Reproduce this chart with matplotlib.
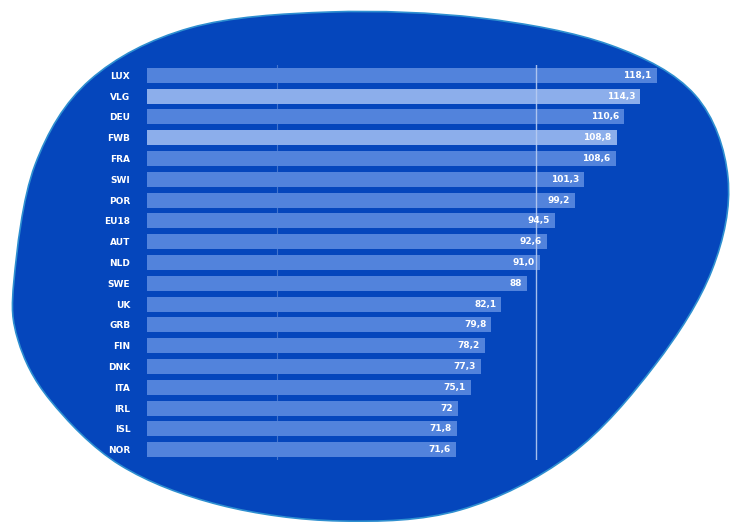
import matplotlib.pyplot as plt
import numpy as np
from matplotlib.path import Path
from matplotlib.patches import PathPatch

# data
countries = ['LUX', 'VLG', 'DEU', 'FWB', 'FRA', 'SWI', 'POR', 'EU18', 'AUT', 'NLD',
             'SWE', 'UK', 'GRB', 'FIN', 'DNK', 'ITA', 'IRL', 'ISL', 'NOR']
values = [118.1, 114.3, 110.6, 108.8, 108.6, 101.3, 99.2, 94.5, 92.6, 91.0,
          88, 82.1, 79.8, 78.2, 77.3, 75.1, 72, 71.8, 71.6]
labels = ['118,1', '114,3', '110,6', '108,8', '108,6', '101,3', '99,2', '94,5', '92,6', '91,0',
          '88', '82,1', '79,8', '78,2', '77,3', '75,1', '72', '71,8', '71,6']
highlight = ['VLG', 'FWB']

W, H = 730, 522
fig = plt.figure(figsize=(W / 100, H / 100), dpi=100)

# background blob
bg = fig.add_axes([0, 0, 1, 1])
bg.set_xlim(0, W)
bg.set_ylim(H, 0)
bg.axis('off')

pts = np.array([(14, 280), (35, 165), (90, 80), (190, 28), (330, 12), (480, 18),
                 (610, 45), (695, 95), (728, 178), (712, 270), (655, 365),
                 (570, 455), (460, 510), (340, 521), (220, 505), (120, 465),
                 (50, 400), (18, 340)], dtype=float)

# closed catmull-rom -> bezier
n = len(pts)
verts = [pts[0]]
codes = [Path.MOVETO]
for i in range(n):
    p0, p1, p2, p3 = pts[i - 1], pts[i], pts[(i + 1) % n], pts[(i + 2) % n]
    c1 = p1 + (p2 - p0) / 6
    c2 = p2 - (p3 - p1) / 6
    verts += [c1, c2, p2]
    codes += [Path.CURVE4] * 3
blob = PathPatch(Path(verts, codes), facecolor='#0546BC', edgecolor='#2E8FD0', lw=1.2)
bg.add_patch(blob)

# bars
ax = fig.add_axes([147 / W, 1 - 460 / H, 518 / W, 395 / H])
ax.patch.set_alpha(0)
y = np.arange(len(countries))
cols = ['#8CAEEB' if c in highlight else '#5283DC' for c in countries]
ax.barh(y, values, height=0.72, color=cols, zorder=2)
ax.set_xlim(0, 120)
ax.set_ylim(len(countries) - 0.5, -0.5)

ax.axvline(30, color='white', alpha=0.25, lw=0.8, zorder=1)
ax.axvline(90, color='#B8CCF2', alpha=0.9, lw=1.0, zorder=3)

for yi, v, lab in zip(y, values, labels):
    ax.text(v - 1.2, yi, lab, ha='right', va='center', color='white',
            fontsize=6.5, fontweight='bold', zorder=4)

ax.set_yticks(y)
ax.set_yticklabels(countries, color='white', fontsize=6.5, fontweight='bold')
ax.tick_params(axis='y', length=0, pad=12)
ax.set_xticks([])
for s in ax.spines.values():
    s.set_visible(False)

fig.savefig('out.png', dpi=100, facecolor='white')
